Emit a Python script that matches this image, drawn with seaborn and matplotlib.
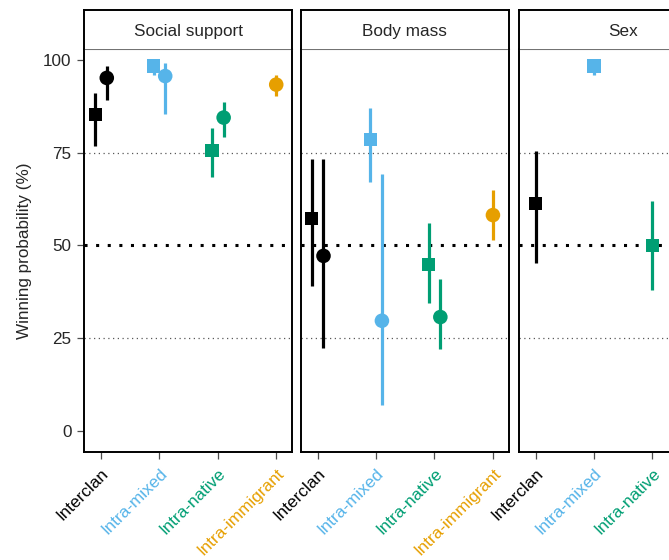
import numpy as np
import pandas as pd
import matplotlib
matplotlib.use("Agg")
import matplotlib.pyplot as plt
import seaborn as sns

# facets, categories and colours
panels = ["Social support", "Body mass", "Sex"]
categories = ["Interclan", "Intra-mixed", "Intra-native", "Intra-immigrant"]
cat_colors = ["#000000", "#56B4E9", "#009E73", "#E69F00"]

# one row per estimate
panel_col = ["Social support"] * 7 + ["Body mass"] * 7 + ["Sex"] * 3
cat_col = ["Interclan", "Interclan", "Intra-mixed", "Intra-mixed", "Intra-native", "Intra-native", "Intra-immigrant",
           "Interclan", "Interclan", "Intra-mixed", "Intra-mixed", "Intra-native", "Intra-native", "Intra-immigrant",
           "Interclan", "Intra-mixed", "Intra-native"]
kind_col = ["square", "circle", "square", "circle", "square", "circle", "circle",
            "square", "circle", "square", "circle", "square", "circle", "circle",
            "square", "square", "square"]
est = [85.4, 95.2, 98.4, 95.7, 75.7, 84.5, 93.4,
       57.3, 47.2, 78.6, 29.7, 44.9, 30.7, 58.2,
       61.4, 98.4, 50.0]
lo = [76.9, 89.2, 95.9, 85.4, 68.5, 79.3, 90.4,
      39.2, 22.3, 67.2, 7.0, 34.4, 22.0, 51.5,
      45.2, 95.9, 38.0]
hi = [91.2, 98.3, 99.5, 99.1, 81.6, 88.6, 95.9,
      73.3, 73.3, 87.0, 69.4, 56.0, 41.0, 65.0,
      75.5, 99.6, 62.1]
panel_cats = {
    "Social support": categories,
    "Body mass": categories,
    "Sex": ["Interclan", "Intra-mixed", "Intra-native"],
}

df = pd.DataFrame({"panel": panel_col, "cat": cat_col, "kind": kind_col,
                   "est": est, "lo": lo, "hi": hi})

# dodge squares left / circles right when both are present
n_in_cat = df.groupby(["panel", "cat"])["kind"].transform("count")
offset = np.where(n_in_cat > 1, np.where(df["kind"] == "square", -0.1, 0.1), 0.0)
df["x"] = df["cat"].map({c: i for i, c in enumerate(categories)}) + offset

sns.set_style("white")
plt.rcParams["font.family"] = ["Liberation Sans", "DejaVu Sans"]

W, H = 669, 560
fig = plt.figure(figsize=(W / 100, H / 100), dpi=100)
palette = dict(zip(categories, cat_colors))

lefts = [84, 300.7, 518.7]
pw = 208
top_plot, bottom_plot, strip_top = 49, 452, 10
fs = 12.3

for i, (name, left) in enumerate(zip(panels, lefts)):
    ax = fig.add_axes([left / W, 1 - bottom_plot / H, pw / W, (bottom_plot - top_plot) / H])
    sx = fig.add_axes([left / W, 1 - top_plot / H, pw / W, (top_plot - strip_top) / H])

    sub = df[df["panel"] == name]
    ax.axhline(75, color="0.35", lw=0.9, ls=(0, (1, 2.8)), zorder=0)
    ax.axhline(25, color="0.35", lw=0.9, ls=(0, (1, 2.8)), zorder=0)
    ax.axhline(50, color="black", lw=2.2, ls=(0, (1, 2.8)), zorder=0)

    ax.vlines(sub["x"], sub["lo"], sub["hi"], colors=sub["cat"].map(palette), lw=2.3, zorder=2)
    sns.scatterplot(data=sub, x="x", y="est", hue="cat", style="kind", palette=palette,
                    markers={"square": "s", "circle": "o"}, size="kind",
                    sizes={"square": 90, "circle": 110}, edgecolor="none",
                    legend=False, ax=ax, zorder=3)

    ax.set_xlim(-0.29, 3.27)
    ax.set_ylim(-5.7, 103)
    cats = panel_cats[name]
    ax.set_xticks(range(len(cats)))
    ax.set_xticklabels(cats, rotation=45, ha="right", va="top", rotation_mode="anchor", fontsize=fs)
    for lab, c in zip(ax.get_xticklabels(), cats):
        lab.set_color(palette[c])
    ax.tick_params(axis="x", length=5, width=0.9, color="0.3", pad=5, bottom=True)
    if i == 0:
        ax.set_yticks([0, 25, 50, 75, 100])
        ax.tick_params(axis="y", length=5, width=0.9, color="0.3", labelsize=fs, left=True, pad=4)
        ax.set_ylabel("Winning probability (%)", fontsize=fs, labelpad=8)
    else:
        ax.set_yticks([])
        ax.set_ylabel("")
    ax.set_xlabel("")
    for s in ["left", "right", "bottom"]:
        ax.spines[s].set_color("black")
        ax.spines[s].set_linewidth(1.4)
    ax.spines["top"].set_color("0.45")
    ax.spines["top"].set_linewidth(0.8)

    sx.set_xticks([])
    sx.set_yticks([])
    for s in ["left", "right", "top"]:
        sx.spines[s].set_color("black")
        sx.spines[s].set_linewidth(1.4)
    sx.spines["bottom"].set_visible(False)
    sx.text(0.5, 0.45, name, ha="center", va="center", fontsize=fs, transform=sx.transAxes)

fig.savefig("out.png", dpi=100)
